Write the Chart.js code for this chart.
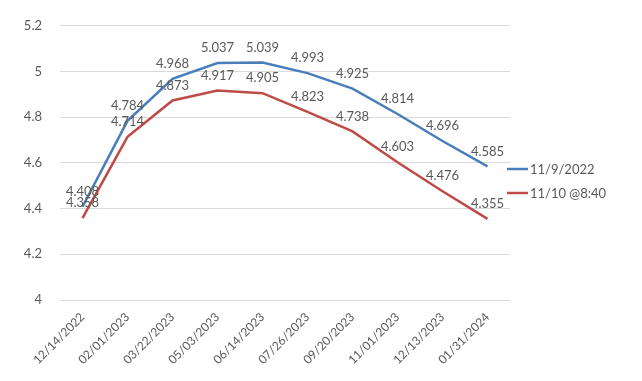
<!DOCTYPE html>
<html>
<head>
<meta charset="utf-8">
<script src="https://cdn.jsdelivr.net/npm/chart.js@4"></script>
<style>
  html, body { margin: 0; padding: 0; background: #fff; }
  #wrap { width: 642px; height: 381px; }
</style>
</head>
<body>
<div id="wrap"><canvas id="rates"></canvas></div>
<script>
const dates = ['12/14/2022', '02/01/2023', '03/22/2023', '05/03/2023', '06/14/2023',
               '07/26/2023', '09/20/2023', '11/01/2023', '12/13/2023', '01/31/2024'];
const nov9 = [4.408, 4.784, 4.968, 5.037, 5.039, 4.993, 4.925, 4.814, 4.696, 4.585];
const nov10 = [4.358, 4.714, 4.873, 4.917, 4.905, 4.823, 4.738, 4.603, 4.476, 4.355];
const seriesNames = ['11/9/2022', '11/10 @8:40'];

const grey = '#595959';
const font = 'Lato, "Liberation Sans", sans-serif';

// value labels above each point, like excel's "above" position
const pointLabels = {
  id: 'pointLabels',
  afterDatasetsDraw(chart) {
    const ctx = chart.ctx;
    ctx.save();
    ctx.font = '13px ' + font;
    ctx.fillStyle = grey;
    ctx.textAlign = 'center';
    ctx.textBaseline = 'middle';
    chart.data.datasets.forEach((ds, i) => {
      chart.getDatasetMeta(i).data.forEach((pt, j) => {
        ctx.fillText(ds.data[j].toFixed(3), pt.x, pt.y - 15);
      });
    });
    ctx.restore();
  }
};

// legend to the right of the last points
const sideLegend = {
  id: 'sideLegend',
  afterDraw(chart) {
    const ctx = chart.ctx;
    const x = chart.chartArea.right - 3;
    ctx.save();
    ctx.font = '13px ' + font;
    ctx.textBaseline = 'middle';
    chart.data.datasets.forEach((ds, i) => {
      const y = 169 + i * 24;
      ctx.strokeStyle = ds.borderColor;
      ctx.lineWidth = 2.5;
      ctx.beginPath();
      ctx.moveTo(x, y);
      ctx.lineTo(x + 21, y);
      ctx.stroke();
      ctx.fillStyle = grey;
      ctx.fillText(ds.label, x + 23, y + 1);
    });
    ctx.restore();
  }
};

new Chart(document.getElementById('rates'), {
  type: 'line',
  data: {
    labels: dates,
    datasets: [
      { label: seriesNames[0], data: nov9, borderColor: '#4A7EBB', backgroundColor: '#4A7EBB',
        borderWidth: 2.5, pointRadius: 0, tension: 0 },
      { label: seriesNames[1], data: nov10, borderColor: '#BE4B48', backgroundColor: '#BE4B48',
        borderWidth: 2.5, pointRadius: 0, tension: 0 }
    ]
  },
  options: {
    responsive: true,
    maintainAspectRatio: false,
    animation: false,
    layout: { padding: { top: 24, right: 132, left: 0, bottom: 0 } },
    plugins: { legend: { display: false }, tooltip: { enabled: false } },
    scales: {
      x: {
        offset: true,
        grid: { display: false },
        border: { display: false },
        ticks: { color: grey, font: { family: font, size: 12 }, maxRotation: 45, minRotation: 45, padding: 2 },
        afterFit(axis) { axis.height = 81; }
      },
      y: {
        min: 4,
        max: 5.2,
        grid: { color: '#d9d9d9', lineWidth: 1, drawTicks: false },
        border: { display: false },
        ticks: {
          stepSize: 0.2,
          color: grey,
          font: { family: font, size: 13 },
          padding: 18,
          callback: v => String(+v.toFixed(1))
        },
        afterFit(axis) { axis.width = 60; }
      }
    }
  },
  plugins: [pointLabels, sideLegend]
});
</script>
</body>
</html>
